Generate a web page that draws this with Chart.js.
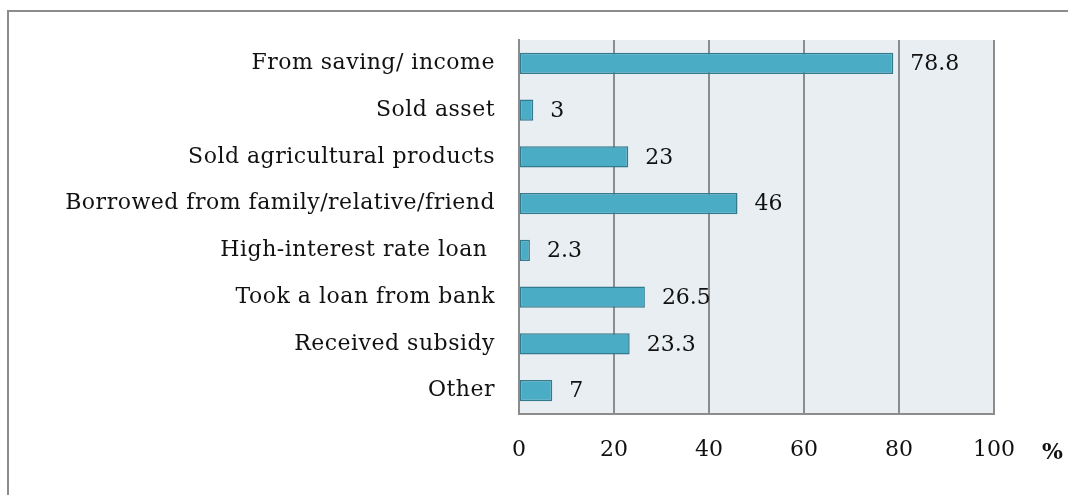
<!DOCTYPE html>
<html>
<head>
<meta charset="utf-8">
<script src="https://cdn.jsdelivr.net/npm/chart.js@4"></script>
<style>
  html, body { margin: 0; padding: 0; background: #fff; }
  #wrap { width: 1068px; height: 495px; }
</style>
</head>
<body>
<div id="wrap"><canvas id="chartFontes"></canvas></div>
<script>
var categorias = [
  'From saving/ income',
  'Sold asset',
  'Sold agricultural products',
  'Borrowed from family/relative/friend',
  'High-interest rate loan ',
  'Took a loan from bank',
  'Received subsidy',
  'Other'
];
var percentuais = [78.8, 3, 23, 46, 2.3, 26.5, 23.3, 7];
var ticksX = [0, 20, 40, 60, 80, 100];

var fonte = "'DejaVu Serif', serif";

// fundo do grafico, moldura externa, rotulos e simbolo %
var extras = {
  id: 'extras',
  beforeDraw: function (chart) {
    var c = chart.ctx, a = chart.chartArea;
    c.save();
    c.fillStyle = '#e8eef2';
    c.fillRect(a.left, a.top, a.right - a.left, a.bottom - a.top);
    c.strokeStyle = '#8c8c8c';
    c.lineWidth = 2;
    c.beginPath();
    c.moveTo(8, 500);
    c.lineTo(8, 11);
    c.lineTo(1070, 11);
    c.stroke();
    c.restore();
  },
  afterDatasetsDraw: function (chart) {
    var c = chart.ctx;
    var meta = chart.getDatasetMeta(0);
    c.save();
    c.font = '22px ' + fonte;
    c.fillStyle = '#111';
    c.textAlign = 'left';
    c.textBaseline = 'middle';
    meta.data.forEach(function (bar, i) {
      c.fillText(String(percentuais[i]), bar.x + 17, bar.y + 1);
    });
    c.font = 'bold 22px ' + fonte;
    c.fillText('%', 1042, 453);
    c.restore();
  }
};

// nomes das categorias com um pouco mais de espaco entre letras
function espacarRotulos(axis) {
  axis.width = 519;
  if (!axis._drawOriginal) {
    axis._drawOriginal = axis.drawLabels;
    axis.drawLabels = function (area) {
      var c = this.ctx;
      c.save();
      c.letterSpacing = '0.5px';
      this._drawOriginal(area);
      c.restore();
    };
  }
}

var ctx = document.getElementById('chartFontes').getContext('2d');
var myChart = new Chart(ctx, {
  type: 'bar',
  data: {
    labels: categorias,
    datasets: [{
      data: percentuais,
      backgroundColor: '#4bacc6',
      borderColor: '#337a8e',
      borderWidth: 1.5,
      borderSkipped: false,
      categoryPercentage: 0.85,
      barPercentage: 0.53
    }]
  },
  plugins: [extras],
  options: {
    indexAxis: 'y',
    responsive: true,
    maintainAspectRatio: false,
    animation: false,
    layout: { padding: { left: 0, right: 74, top: 40, bottom: 0 } },
    plugins: {
      legend: { display: false },
      tooltip: { enabled: false }
    },
    scales: {
      x: {
        min: 0,
        max: 100,
        afterBuildTicks: function (axis) {
          axis.ticks = ticksX.map(function (v) { return { value: v }; });
        },
        afterFit: function (axis) { axis.height = 81; },
        grid: { color: '#8c8c8c', lineWidth: 2, drawTicks: false },
        border: { display: true, color: '#8c8c8c', width: 2 },
        ticks: { padding: 23, color: '#111', font: { family: fonte, size: 22 } }
      },
      y: {
        afterFit: espacarRotulos,
        grid: { display: false, drawTicks: false },
        border: { display: true, color: '#8c8c8c', width: 2 },
        ticks: { padding: 24, color: '#111', font: { family: fonte, size: 22 } }
      }
    }
  }
});
</script>
</body>
</html>
